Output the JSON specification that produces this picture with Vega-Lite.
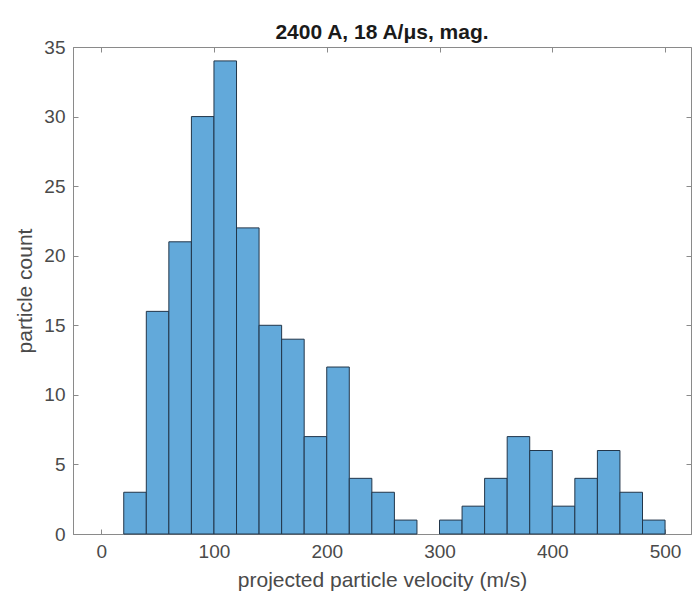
{
  "$schema": "https://vega.github.io/schema/vega-lite/v6.json",
  "autosize": {"type": "none"},
  "padding": {"left": 73, "top": 47, "right": 1, "bottom": 71},
  "width": 618,
  "height": 487,
  "background": "white",
  "title": {
    "text": "2400 A, 18 A/μs, mag.",
    "font": "Liberation Sans",
    "fontSize": 21,
    "fontWeight": "bold",
    "color": "#1a1a1a",
    "anchor": "middle",
    "offset": -5
  },
  "config": {
    "view": {"stroke": "#8a8a8a", "strokeWidth": 1},
    "axis": {
      "labelFont": "Liberation Sans",
      "titleFont": "Liberation Sans",
      "labelFontSize": 19,
      "titleFontSize": 21,
      "labelColor": "#4a4a4a",
      "titleColor": "#4a4a4a",
      "titleFontWeight": "normal",
      "domainColor": "#8a8a8a",
      "tickColor": "#8a8a8a",
      "grid": false
    }
  },
  "data": {
    "values": [
      {"bin_start": 20, "bin_end": 40, "count": 3},
      {"bin_start": 40, "bin_end": 60, "count": 16},
      {"bin_start": 60, "bin_end": 80, "count": 21},
      {"bin_start": 80, "bin_end": 100, "count": 30},
      {"bin_start": 100, "bin_end": 120, "count": 34},
      {"bin_start": 120, "bin_end": 140, "count": 22},
      {"bin_start": 140, "bin_end": 160, "count": 15},
      {"bin_start": 160, "bin_end": 180, "count": 14},
      {"bin_start": 180, "bin_end": 200, "count": 7},
      {"bin_start": 200, "bin_end": 220, "count": 12},
      {"bin_start": 220, "bin_end": 240, "count": 4},
      {"bin_start": 240, "bin_end": 260, "count": 3},
      {"bin_start": 260, "bin_end": 280, "count": 1},
      {"bin_start": 300, "bin_end": 320, "count": 1},
      {"bin_start": 320, "bin_end": 340, "count": 2},
      {"bin_start": 340, "bin_end": 360, "count": 4},
      {"bin_start": 360, "bin_end": 380, "count": 7},
      {"bin_start": 380, "bin_end": 400, "count": 6},
      {"bin_start": 400, "bin_end": 420, "count": 2},
      {"bin_start": 420, "bin_end": 440, "count": 4},
      {"bin_start": 440, "bin_end": 460, "count": 6},
      {"bin_start": 460, "bin_end": 480, "count": 3},
      {"bin_start": 480, "bin_end": 500, "count": 1}
    ]
  },
  "layer": [
    {
      "mark": {"type": "rect", "fill": "#62a9da", "stroke": "#22364a", "strokeWidth": 1},
      "encoding": {
        "x": {
          "field": "bin_start",
          "type": "quantitative",
          "scale": {"domain": [-25, 523], "nice": false, "zero": false},
          "axis": {
            "title": "projected particle velocity (m/s)",
            "values": [0, 100, 200, 300, 400, 500],
            "tickSize": -5,
            "labelPadding": 13,
            "titlePadding": 8
          }
        },
        "x2": {"field": "bin_end"},
        "y": {
          "field": "count",
          "type": "quantitative",
          "scale": {"domain": [0, 35], "nice": false},
          "axis": {
            "title": "particle count",
            "values": [0, 5, 10, 15, 20, 25, 30, 35],
            "tickSize": -5,
            "labelPadding": 13,
            "titlePadding": 8
          }
        },
        "y2": {"datum": 0}
      }
    },
    {
      "mark": {"type": "rect", "opacity": 0},
      "encoding": {
        "x": {
          "field": "bin_start",
          "type": "quantitative",
          "axis": {
            "orient": "top",
            "title": null,
            "labels": false,
            "domain": false,
            "values": [0, 100, 200, 300, 400, 500],
            "tickSize": -5
          }
        },
        "x2": {"field": "bin_end"},
        "y": {
          "field": "count",
          "type": "quantitative",
          "axis": {
            "orient": "right",
            "title": null,
            "labels": false,
            "domain": false,
            "values": [0, 5, 10, 15, 20, 25, 30, 35],
            "tickSize": -5
          }
        },
        "y2": {"datum": 0}
      }
    }
  ],
  "resolve": {"axis": {"x": "independent", "y": "independent"}}
}
